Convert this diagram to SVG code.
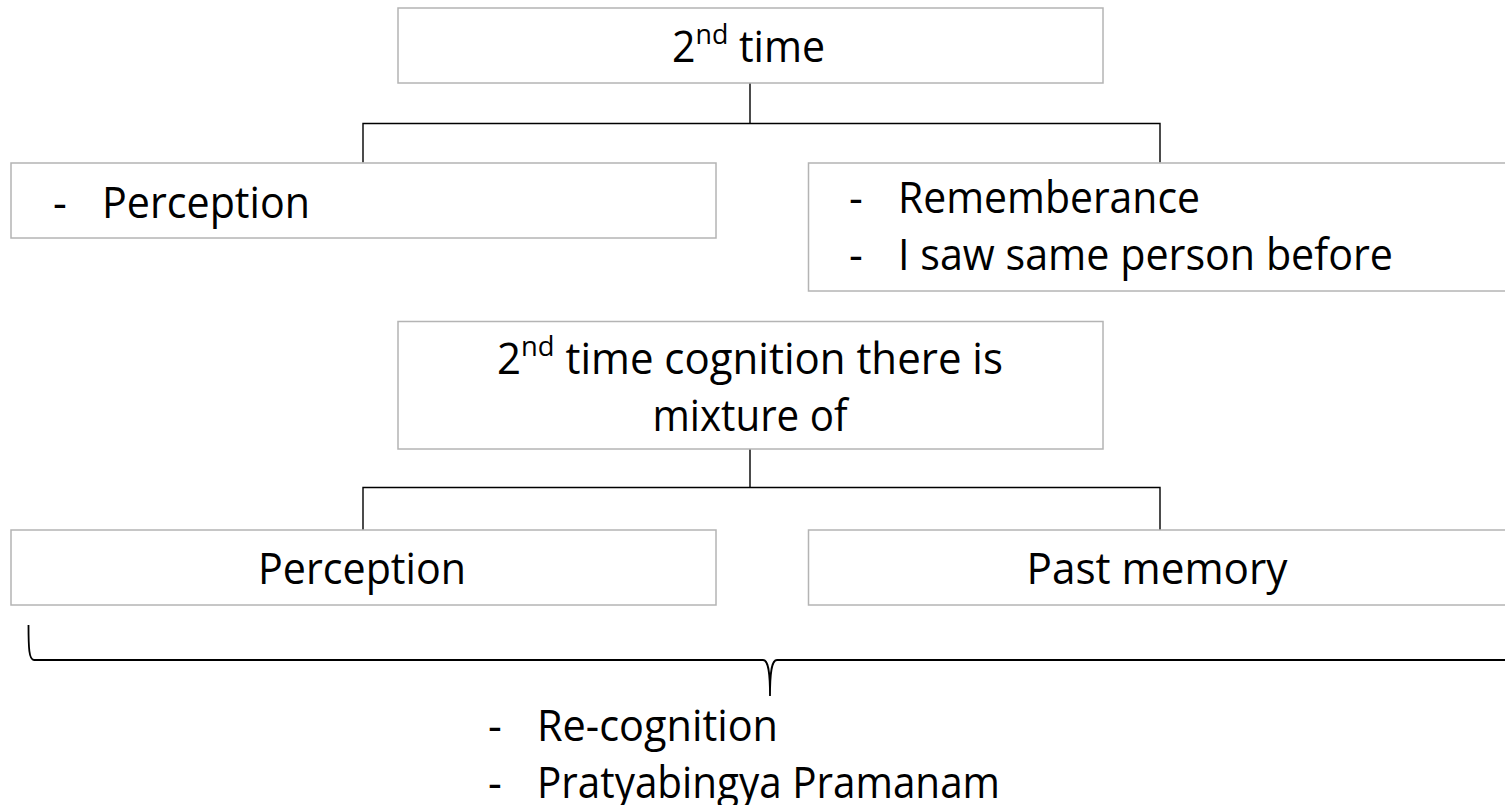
<svg xmlns="http://www.w3.org/2000/svg" width="1505" height="805" viewBox="0 0 1505 805">
  <style>
    .box { fill: #ffffff; stroke: #b4b4b4; stroke-width: 1.5; }
    .conn { fill: none; stroke: #000000; stroke-width: 1.4; }
    .brace { fill: none; stroke: #000000; stroke-width: 1.8; }
    .t { font-family: "Open Sans", "Noto Sans", sans-serif; font-size: 43px; fill: #000000; }
    .sup { font-size: 28px; }
    .mid { text-anchor: middle; }
  </style>
  <rect width="1505" height="805" fill="#ffffff"/>

  <!-- connectors -->
  <g id="connectors">
    <path class="conn" d="M750 83 V123.5 M363 162.5 V123.5 H1160 V162.5"/>
    <path class="conn" d="M750 449 V487.5 M363 530 V487.5 H1160 V530"/>
  </g>

  <!-- top node -->
  <g id="node-second-time">
    <rect class="box" x="398" y="8" width="705" height="75"/>
    <text class="t" x="672" y="62" textLength="153" lengthAdjust="spacingAndGlyphs">2<tspan class="sup" dy="-18">nd</tspan><tspan dy="18"> time</tspan></text>
  </g>

  <g id="node-perception-1">
    <rect class="box" x="11" y="163" width="705" height="75"/>
    <text class="t" x="53" y="218">-</text>
    <text class="t" x="102" y="218" textLength="208" lengthAdjust="spacingAndGlyphs">Perception</text>
  </g>

  <g id="node-rememberance">
    <rect class="box" x="808.5" y="163" width="720" height="128"/>
    <text class="t" x="849" y="213">-</text>
    <text class="t" x="898" y="213" textLength="302" lengthAdjust="spacingAndGlyphs">Rememberance</text>
    <text class="t" x="849" y="270">-</text>
    <text class="t" x="898" y="270" textLength="495" lengthAdjust="spacingAndGlyphs">I saw same person before</text>
  </g>

  <g id="node-mixture">
    <rect class="box" x="398" y="321.5" width="705" height="127.5"/>
    <text class="t" x="497" y="374" textLength="506" lengthAdjust="spacingAndGlyphs">2<tspan class="sup" dy="-18">nd</tspan><tspan dy="18"> time cognition there is</tspan></text>
    <text class="t mid" x="750" y="431" textLength="195" lengthAdjust="spacingAndGlyphs">mixture of</text>
  </g>

  <g id="node-perception-2">
    <rect class="box" x="11" y="530" width="705" height="75"/>
    <text class="t mid" x="362" y="584" textLength="208" lengthAdjust="spacingAndGlyphs">Perception</text>
  </g>

  <g id="node-past-memory">
    <rect class="box" x="808.5" y="530" width="720" height="75"/>
    <text class="t mid" x="1157" y="584" textLength="261" lengthAdjust="spacingAndGlyphs">Past memory</text>
  </g>

  <!-- brace grouping both bottom nodes -->
  <g id="brace">
    <path class="brace" d="M28.5 625 C28.5 648 29 660 34 660 H763 C768 660 770 670 770 696 C770 670 772 660 777 660 H1510"/>
  </g>

  <g id="node-recognition">
    <text class="t" x="488" y="741">-</text>
    <text class="t" x="537" y="741" textLength="241" lengthAdjust="spacingAndGlyphs">Re-cognition</text>
    <text class="t" x="488" y="798">-</text>
    <text class="t" x="537" y="798" textLength="463" lengthAdjust="spacingAndGlyphs">Pratyabingya Pramanam</text>
  </g>
</svg>
